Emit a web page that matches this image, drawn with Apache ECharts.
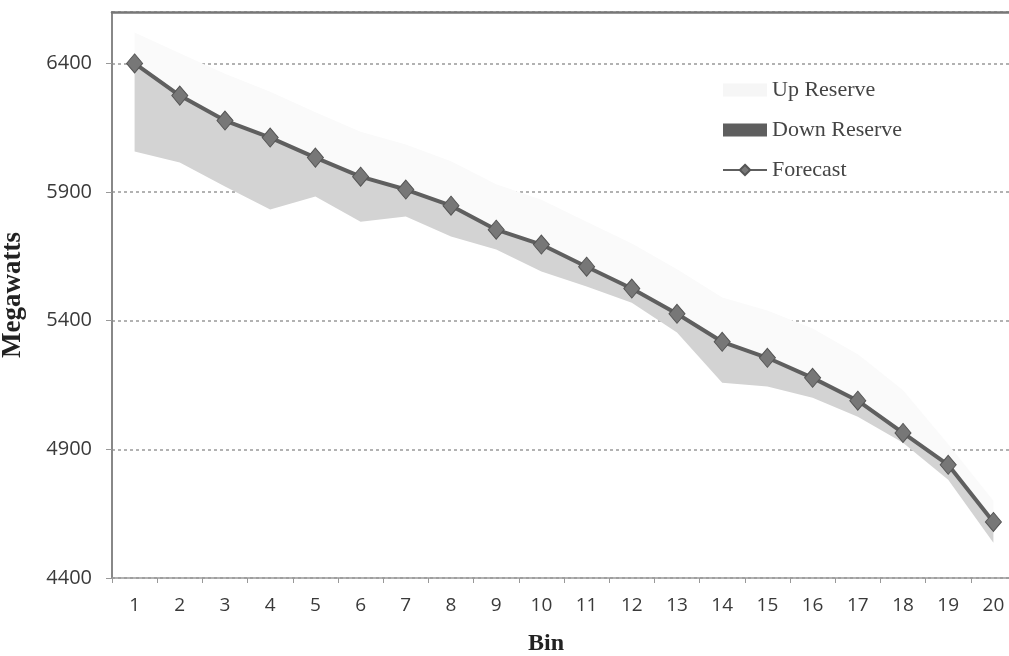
<!DOCTYPE html>
<html>
<head>
<meta charset="utf-8">
<script src="https://cdn.jsdelivr.net/npm/echarts@6/dist/echarts.min.js"></script>
<style>
html,body{margin:0;padding:0;background:#fff;}
#chart{width:1009px;height:656px;}
</style>
</head>
<body>
<div id="chart"></div>
<script>
// ---- data ----
var bins = ['1','2','3','4','5','6','7','8','9','10','11','12','13','14','15','16','17','18','19','20'];
var forecast = [6400,6275,6178,6112,6034,5960,5910,5847,5754,5696,5610,5525,5427,5318,5256,5178,5089,4964,4840,4618];
var downReserve = [342,260,256,280,151,175,105,120,77,105,77,55,73,159,112,77,62,38,58,81];
var upReserve = [120,165,182,178,176,175,175,173,176,174,175,175,173,172,184,192,181,166,80,82];
var yTicks = [4400,4900,5400,5900,6400];

// lower bound of the down-reserve band (invisible base of the stack)
var lowerBase = forecast.map(function(f,i){return f - downReserve[i];});

var chart = echarts.init(document.getElementById('chart'));
chart.setOption({
  backgroundColor:'#ffffff',
  animation:false,
  title:[{
    text:'Bin', left:523, top:627,
    textStyle:{fontFamily:'Liberation Serif', fontWeight:'bold', fontSize:24, color:'#222'}
  }],
  legend:{
    orient:'vertical', left:717, top:74,
    itemWidth:44, itemHeight:13, itemGap:18,
    textStyle:{fontFamily:'Liberation Serif', fontSize:22, color:'#444'},
    data:[
      {name:'Up Reserve', icon:'rect', itemStyle:{color:'#f6f6f6'}},
      {name:'Down Reserve', icon:'rect', itemStyle:{color:'#5e5e5e'}},
      {name:'Forecast'}
    ]
  },
  grid:{left:112, top:12, width:904, bottom:78, containLabel:false, outerBoundsMode:'none'},
  xAxis:[{
    type:'category', data:bins, boundaryGap:true,
    axisLine:{lineStyle:{color:'#999', width:1.5}},
    axisTick:{show:true, length:5, lineStyle:{color:'#999'}},
    axisLabel:{margin:18, fontFamily:'Open Sans', fontSize:19, color:'#3a3a3a'}
  },{
    type:'category', data:bins, position:'top', boundaryGap:true,
    axisLine:{lineStyle:{color:'#777', width:2.5}},
    axisTick:{show:false}, axisLabel:{show:false}
  }],
  yAxis:{
    type:'value', min:4400, max:6600, interval:500,
    name:'Megawatts', nameLocation:'middle', nameGap:85,
    nameTextStyle:{fontFamily:'Liberation Serif', fontWeight:'bold', fontSize:27, color:'#222'},
    axisLine:{show:true, lineStyle:{color:'#888', width:2}},
    axisTick:{show:true, length:6, lineStyle:{color:'#999'}},
    axisLabel:{margin:20, fontFamily:'Open Sans', fontSize:20, color:'#3a3a3a', showMaxLabel:false,
      formatter:function(v){return yTicks.indexOf(v) >= 0 ? String(v) : '';}},
    splitLine:{show:true, lineStyle:{color:'#999', width:1.5, type:[3,3]}}
  },
  series:[
    {
      name:'base', type:'line', stack:'r', data:lowerBase,
      showSymbol:false, symbol:'none', lineStyle:{width:0, opacity:0}, silent:true
    },
    {
      name:'Down Reserve', type:'line', stack:'r', data:downReserve,
      showSymbol:false, symbol:'none', lineStyle:{width:0, opacity:0},
      itemStyle:{color:'#5e5e5e'},
      areaStyle:{color:'#d3d3d3', opacity:1}
    },
    {
      name:'Up Reserve', type:'line', stack:'r', data:upReserve,
      showSymbol:false, symbol:'none', lineStyle:{width:0, opacity:0},
      itemStyle:{color:'#f6f6f6'},
      areaStyle:{color:'#fafafa', opacity:1}
    },
    {
      name:'Forecast', type:'line', data:forecast,
      symbol:'diamond', symbolSize:[16,19], showSymbol:true,
      lineStyle:{color:'#5f5f5f', width:4},
      itemStyle:{color:'#777', borderColor:'#555', borderWidth:1},
      z:5
    }
  ]
});
</script>
</body>
</html>
